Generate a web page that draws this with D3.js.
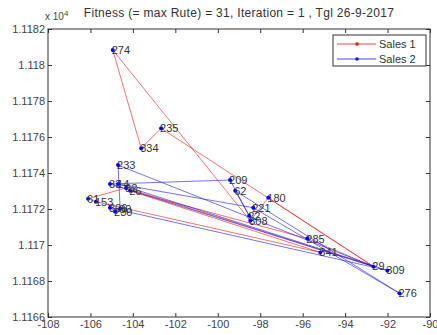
<!DOCTYPE html>
<html><head><meta charset="utf-8">
<script src="https://cdn.jsdelivr.net/npm/d3@7"></script>
<style>body{margin:0;background:#fff}svg{display:block}text{font-family:"Liberation Sans",Arial,sans-serif}</style>
</head><body><div id="chart"></div>
<script>
// City labels and coordinates (x, y), y in raw units (axis shows x 10^4)
const cityLabels = ["274","235","334","233","33","14","82","26","61","153","306","230","30","209","62","180","221","22","308","285","341","29","309","276"];
const cityX = [-104.95,-102.67,-103.61,-104.70,-105.08,-104.70,-104.32,-104.13,-106.11,-105.74,-105.08,-104.84,-104.60,-99.42,-99.18,-97.62,-98.33,-98.52,-98.47,-95.78,-95.17,-92.67,-92.01,-91.44];
const cityY = [11180.84,11176.48,11175.38,11174.44,11173.39,11173.39,11173.17,11173.01,11172.57,11172.40,11172.07,11171.85,11172.01,11173.61,11173.01,11172.62,11172.07,11171.63,11171.35,11170.36,11169.59,11168.81,11168.59,11167.32];
// Routes as sequences of city labels
const route1 = ["29","235","334","274","308","180","29","82","61","153","341","26","285","29"];
const route2 = ["29","33","209","22","62","276","221","14","309","306","230","30","233","29"];
const seriesNames = ["Sales  1","Sales  2"];
const xTicks = [-108,-106,-104,-102,-100,-98,-96,-94,-92,-90];
const yTicks = [11166,11168,11170,11172,11174,11176,11178,11180,11182];
const titleText = "Fitness (= max Rute) = 31, Iteration = 1 , Tgl 26-9-2017";

const W=437,H=335;
const L=48,R=430,T=29,B=317;
const svg=d3.select("#chart").append("svg").attr("width",W).attr("height",H);
const x=d3.scaleLinear().domain([-108,-90]).range([L,R]);
const y=d3.scaleLinear().domain([11166,11182]).range([B,T]);
const idx={}; cityLabels.forEach((c,i)=>idx[c]=i);
const pt=c=>[x(cityX[idx[c]]),y(cityY[idx[c]])];

// routes
const line=d3.line();
const colors=["#e01818","#1818d8"];
[route1,route2].forEach((r,k)=>{
  svg.append("path").attr("d",line(r.map(pt))).attr("fill","none")
    .attr("stroke",colors[k]).attr("stroke-width",0.8).attr("stroke-opacity",0.75);
});
// points
svg.selectAll("circle.city").data(cityLabels).enter().append("circle")
  .attr("cx",c=>pt(c)[0]).attr("cy",c=>pt(c)[1]).attr("r",2).attr("fill","#0000ff");
// labels
svg.selectAll("text.city").data(cityLabels).enter().append("text")
  .attr("x",c=>pt(c)[0]-1).attr("y",c=>pt(c)[1]+4).attr("font-size",11).attr("fill","#333")
  .text(c=>c);

// axes
const fmtY=v=>String(+(v/10000).toFixed(4));
const ax=svg.append("g");
ax.append("g").attr("transform",`translate(0,${B})`)
  .call(d3.axisBottom(x).tickValues(xTicks).tickSizeInner(-4).tickSizeOuter(0).tickPadding(3).tickFormat(d=>d));
ax.append("g").attr("transform",`translate(0,${T})`)
  .call(d3.axisTop(x).tickValues(xTicks).tickSizeInner(-4).tickSizeOuter(0).tickFormat(""));
ax.append("g").attr("transform",`translate(${L},0)`)
  .call(d3.axisLeft(y).tickValues(yTicks).tickSizeInner(-4).tickSizeOuter(0).tickPadding(3).tickFormat(fmtY));
ax.append("g").attr("transform",`translate(${R},0)`)
  .call(d3.axisRight(y).tickValues(yTicks).tickSizeInner(-4).tickSizeOuter(0).tickFormat(""));
ax.selectAll("path.domain").remove();
ax.selectAll("line").attr("stroke","#333");
ax.selectAll("text").attr("font-size",11).attr("fill","#444").attr("font-family","Liberation Sans, Arial, sans-serif");
svg.append("rect").attr("x",L).attr("y",T).attr("width",R-L).attr("height",B-T)
  .attr("fill","none").attr("stroke","#333").attr("stroke-width",1);

// exponent
const ex=svg.append("text").attr("x",L-3).attr("y",T-9).attr("font-size",10).attr("fill","#444");
ex.append("tspan").text("x 10");
ex.append("tspan").attr("dy",-4).attr("font-size",8).text("4");
// title
svg.append("text").attr("x",239).attr("y",17).attr("text-anchor","middle").attr("font-size",12)
  .attr("letter-spacing",0.3).attr("fill","#333").text(titleText);

// legend
const lg=svg.append("g");
lg.append("rect").attr("x",333).attr("y",35).attr("width",93).attr("height",31).attr("fill","#fff").attr("stroke","#333");
seriesNames.forEach((n,k)=>{
  const yy=44+k*15;
  lg.append("line").attr("x1",337).attr("x2",376).attr("y1",yy).attr("y2",yy).attr("stroke",colors[k]).attr("stroke-width",0.8);
  lg.append("circle").attr("cx",357).attr("cy",yy).attr("r",1.8).attr("fill",colors[k]);
  lg.append("text").attr("x",379).attr("y",yy+4).attr("font-size",11).attr("fill","#333").text(n);
});
</script></body></html>
